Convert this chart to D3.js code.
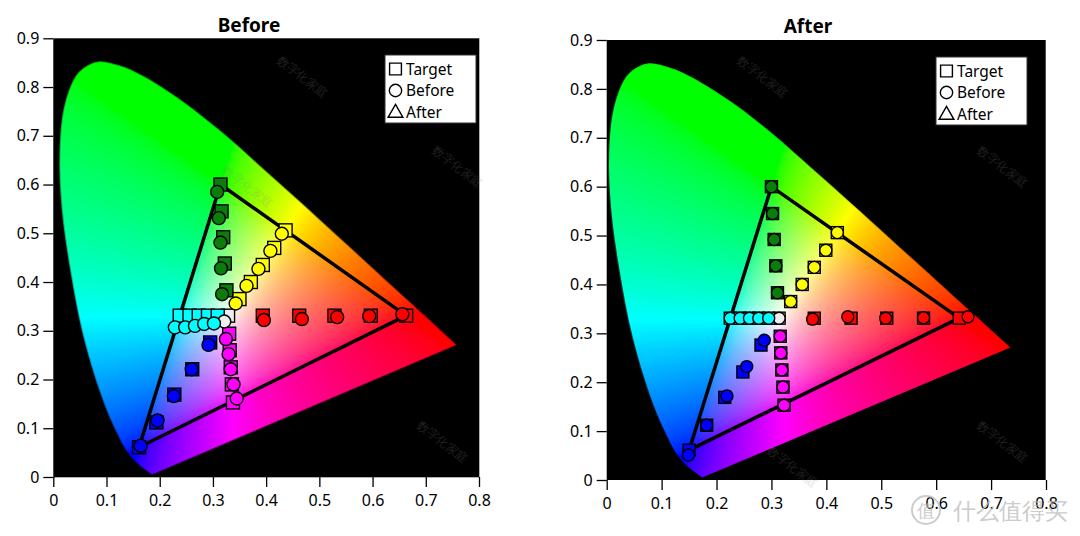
<!DOCTYPE html>
<html>
<head>
<meta charset="utf-8">
<script src="https://cdn.jsdelivr.net/npm/d3@7"></script>
<style>
  body { margin: 0; background: #fff; }
  svg { display: block; }
  text { font-family: "Noto Sans", "Open Sans", sans-serif; }
</style>
</head>
<body>
<svg id="chart" width="1080" height="536"></svg>
<script>
// spectral locus (x, y)
const locus = [
  [0.174, 0.005], [0.144, 0.031], [0.124, 0.059], [0.110, 0.089], [0.091, 0.136],
  [0.069, 0.205], [0.045, 0.301], [0.024, 0.422], [0.008, 0.550], [0.004, 0.669],
  [0.014, 0.767], [0.039, 0.830], [0.074, 0.852], [0.114, 0.844], [0.155, 0.824],
  [0.230, 0.771], [0.302, 0.708], [0.373, 0.638], [0.444, 0.567], [0.513, 0.497],
  [0.575, 0.434], [0.627, 0.381], [0.692, 0.315], [0.735, 0.271]
];

const xTicks = [0, 0.1, 0.2, 0.3, 0.4, 0.5, 0.6, 0.7, 0.8];
const yTicks = [0, 0.1, 0.2, 0.3, 0.4, 0.5, 0.6, 0.7, 0.8, 0.9];
const legendLabels = ["Target", "Before", "After"];

// [x, y, colour group]
const targetPts = [
  [0.378, 0.331, "red"], [0.445, 0.331, "red"], [0.510, 0.331, "red"], [0.577, 0.331, "red"], [0.642, 0.331, "red"],
  [0.300, 0.600, "green"], [0.302, 0.545, "green"], [0.305, 0.492, "green"], [0.308, 0.438, "green"], [0.311, 0.383, "green"],
  [0.420, 0.506, "yellow"], [0.399, 0.470, "yellow"], [0.378, 0.435, "yellow"], [0.356, 0.400, "yellow"], [0.335, 0.365, "yellow"],
  [0.314, 0.331, "white"],
  [0.225, 0.331, "cyan"], [0.243, 0.331, "cyan"], [0.260, 0.331, "cyan"], [0.277, 0.331, "cyan"], [0.295, 0.331, "cyan"],
  [0.316, 0.294, "magenta"], [0.317, 0.260, "magenta"], [0.319, 0.225, "magenta"], [0.321, 0.190, "magenta"], [0.323, 0.153, "magenta"],
  [0.281, 0.276, "blue"], [0.248, 0.221, "blue"], [0.215, 0.169, "blue"], [0.182, 0.112, "blue"], [0.150, 0.061, "blue"]
];

const beforePts = [
  [0.380, 0.322, "red"], [0.450, 0.324, "red"], [0.515, 0.328, "red"], [0.574, 0.330, "red"], [0.635, 0.334, "red"],
  [0.294, 0.585, "green"], [0.297, 0.531, "green"], [0.300, 0.481, "green"], [0.301, 0.428, "green"], [0.303, 0.375, "green"],
  [0.413, 0.499, "yellow"], [0.392, 0.464, "yellow"], [0.370, 0.427, "yellow"], [0.348, 0.392, "yellow"], [0.328, 0.356, "yellow"],
  [0.307, 0.319, "white"],
  [0.216, 0.307, "cyan"], [0.235, 0.307, "cyan"], [0.253, 0.310, "cyan"], [0.270, 0.314, "cyan"], [0.288, 0.315, "cyan"],
  [0.310, 0.283, "magenta"], [0.315, 0.252, "magenta"], [0.319, 0.221, "magenta"], [0.324, 0.190, "magenta"], [0.330, 0.161, "magenta"],
  [0.278, 0.271, "blue"], [0.247, 0.221, "blue"], [0.214, 0.166, "blue"], [0.184, 0.116, "blue"], [0.153, 0.064, "blue"]
];

const afterPts = [
  [0.375, 0.329, "red"], [0.439, 0.334, "red"], [0.508, 0.331, "red"], [0.577, 0.332, "red"], [0.658, 0.334, "red"],
  [0.300, 0.600, "green"], [0.302, 0.545, "green"], [0.305, 0.492, "green"], [0.308, 0.438, "green"], [0.311, 0.383, "green"],
  [0.420, 0.506, "yellow"], [0.399, 0.470, "yellow"], [0.378, 0.435, "yellow"], [0.356, 0.400, "yellow"], [0.335, 0.365, "yellow"],
  [0.314, 0.331, "white"],
  [0.225, 0.331, "cyan"], [0.243, 0.331, "cyan"], [0.260, 0.331, "cyan"], [0.277, 0.331, "cyan"], [0.295, 0.331, "cyan"],
  [0.316, 0.294, "magenta"], [0.317, 0.260, "magenta"], [0.319, 0.225, "magenta"], [0.321, 0.190, "magenta"], [0.323, 0.153, "magenta"],
  [0.287, 0.286, "blue"], [0.255, 0.232, "blue"], [0.219, 0.172, "blue"], [0.182, 0.112, "blue"], [0.149, 0.051, "blue"]
];

// gamut triangle corners: red, green, blue targets
const gamut = [[0.642, 0.331], [0.300, 0.600], [0.150, 0.061]];

const fills = {
  red: "#ff0000", green: "#0a7d0a", yellow: "#ffff00", white: "#eeeeee",
  cyan: "#00ffff", magenta: "#ff00ff", blue: "#0000ff"
};

const charts = [
  { title: "Before", pts: beforePts, box: [53.3, 479, 38.3, 477], dataX: [57.6, 491.9],
    titleX: 249, titleY: 31.5, legend: [385, 55], sq: 13, r: 6.5,
    marks: [[300, 80], [455, 170], [440, 445], [245, 190]] },
  { title: "After", pts: afterPts, box: [606.7, 1046, 40, 480], dataX: [606.7, 1046],
    titleX: 808, titleY: 33, legend: [936, 57], sq: 12, r: 6,
    marks: [[760, 80], [1000, 170], [1000, 445], [790, 470]] }
];

const svg = d3.select("#chart");
svg.append("rect").attr("width", 1080).attr("height", 536).attr("fill", "#fff");

function chroma(x, y) {
  y = Math.max(y, 1e-4);
  const X = x / y, Y = 1, Z = (1 - x - y) / y;
  let r = 3.2406 * X - 1.5372 * Y - 0.4986 * Z;
  let g = -0.9689 * X + 1.8758 * Y + 0.0415 * Z;
  let b = 0.0557 * X - 0.2040 * Y + 1.0570 * Z;
  r = Math.max(r, 0); g = Math.max(g, 0); b = Math.max(b, 0);
  const m = Math.max(r, g, b) || 1;
  const gam = v => 255 * Math.pow(v / m, 1 / 1.8);
  return [gam(r), gam(g), gam(b)];
}

charts.forEach(c => {
  const [x0, x1, y0, y1] = c.box;
  const xAxisScale = d3.scaleLinear().domain([0, 0.8]).range([x0, x1]);
  const x = d3.scaleLinear().domain([0, 0.8]).range(c.dataX);
  const y = d3.scaleLinear().domain([0, 0.9]).range([y1, y0]);

  const w = Math.round(x1 - x0), h = Math.round(y1 - y0);

  // colour field
  const field = document.createElement("canvas");
  field.width = w; field.height = h;
  const fctx = field.getContext("2d");
  const img = fctx.createImageData(w, h);
  for (let j = 0; j < h; j++) {
    for (let i = 0; i < w; i++) {
      const rgb = chroma(x.invert(x0 + i + 0.5), y.invert(y0 + j + 0.5));
      const k = (j * w + i) * 4;
      img.data[k] = rgb[0]; img.data[k + 1] = rgb[1]; img.data[k + 2] = rgb[2]; img.data[k + 3] = 255;
    }
  }
  fctx.putImageData(img, 0, 0);

  const canvas = document.createElement("canvas");
  canvas.width = w; canvas.height = h;
  const ctx = canvas.getContext("2d");
  ctx.fillStyle = "#000";
  ctx.fillRect(0, 0, w, h);
  ctx.save();
  ctx.translate(-x0, -y0);
  ctx.beginPath();
  d3.line().x(d => x(d[0])).y(d => y(d[1])).curve(d3.curveCatmullRom).context(ctx)(locus);
  ctx.closePath();
  ctx.clip();
  ctx.translate(x0, y0);
  ctx.drawImage(field, 0, 0);
  ctx.restore();

  const g = svg.append("g");
  g.append("image")
    .attr("x", x0).attr("y", y0).attr("width", w).attr("height", h)
    .attr("href", canvas.toDataURL());

  // watermark
  g.selectAll(".wm").data(c.marks).join("text")
    .attr("transform", d => `translate(${d[0]},${d[1]}) rotate(38)`)
    .attr("font-size", 12).attr("fill", "#888").attr("opacity", 0.22)
    .attr("text-anchor", "middle")
    .text("数字化家庭");

  // axes
  const fmt = d => d === 0 ? "0" : d.toFixed(1);
  g.append("g")
    .attr("transform", `translate(0,${y1})`)
    .call(d3.axisBottom(xAxisScale).tickValues(xTicks).tickFormat(fmt).tickSize(10).tickPadding(8).tickSizeOuter(0))
    .call(a => a.select(".domain").remove())
    .call(a => a.selectAll("line").attr("stroke-width", 1.3))
    .call(a => a.selectAll("text").attr("font-size", 16).attr("fill", "#000"));
  g.append("g")
    .attr("transform", `translate(${x0},0)`)
    .call(d3.axisLeft(y).tickValues(yTicks).tickFormat(fmt).tickSize(10).tickPadding(4).tickSizeOuter(0))
    .call(a => a.select(".domain").remove())
    .call(a => a.selectAll("line").attr("stroke-width", 1.3))
    .call(a => a.selectAll("text").attr("font-size", 16).attr("fill", "#000"));

  g.append("text")
    .attr("x", c.titleX).attr("y", c.titleY)
    .attr("text-anchor", "middle").attr("font-size", 19).attr("font-weight", "bold")
    .text(c.title);

  // gamut triangle
  g.append("path")
    .attr("d", d3.line().x(d => x(d[0])).y(d => y(d[1])).curve(d3.curveLinearClosed)(gamut))
    .attr("fill", "none").attr("stroke", "#000").attr("stroke-width", 3.5)
    .attr("stroke-linejoin", "round");

  // target squares
  g.selectAll(".sq").data(targetPts).join("rect")
    .attr("x", d => x(d[0]) - c.sq / 2).attr("y", d => y(d[1]) - c.sq / 2)
    .attr("width", c.sq).attr("height", c.sq)
    .attr("fill", d => fills[d[2]]).attr("stroke", "#000").attr("stroke-width", 1.4);

  // measured circles
  g.selectAll(".ci").data(c.pts).join("circle")
    .attr("cx", d => x(d[0])).attr("cy", d => y(d[1])).attr("r", c.r)
    .attr("fill", d => fills[d[2]]).attr("stroke", "#000").attr("stroke-width", 1.4);

  // legend
  const lg = g.append("g").attr("transform", `translate(${c.legend[0]},${c.legend[1]})`);
  lg.append("rect").attr("width", 91).attr("height", 68)
    .attr("fill", "#fff").attr("stroke", "#333").attr("stroke-width", 1);
  const sym = [d3.symbolSquare, d3.symbolCircle, d3.symbolTriangle];
  const symSize = [140, 120, 95];
  legendLabels.forEach((t, i) => {
    const cy = 14 + i * 21.5;
    lg.append("path")
      .attr("transform", `translate(10.5,${cy + (i === 2 ? 1 : 0)})`)
      .attr("d", d3.symbol().type(sym[i]).size(symSize[i])())
      .attr("fill", "#fff").attr("stroke", "#000").attr("stroke-width", 1.4);
    lg.append("text").attr("x", 21).attr("y", cy + 5.5)
      .attr("font-size", 15.5).attr("fill", "#000").text(t);
  });
});

// site logo at bottom right
const logo = svg.append("g").attr("opacity", 0.75);
logo.append("circle").attr("cx", 926).attr("cy", 510).attr("r", 14)
  .attr("fill", "none").attr("stroke", "#bbb").attr("stroke-width", 2);
logo.append("text").attr("x", 926).attr("y", 517).attr("text-anchor", "middle")
  .attr("font-size", 18).attr("fill", "#bbb").attr("font-family", "Noto Sans CJK SC").text("值");
logo.append("text").attr("x", 953).attr("y", 519)
  .attr("font-size", 23).attr("fill", "#bbb").attr("font-family", "Noto Sans CJK SC").text("什么值得买");
</script>
</body>
</html>
